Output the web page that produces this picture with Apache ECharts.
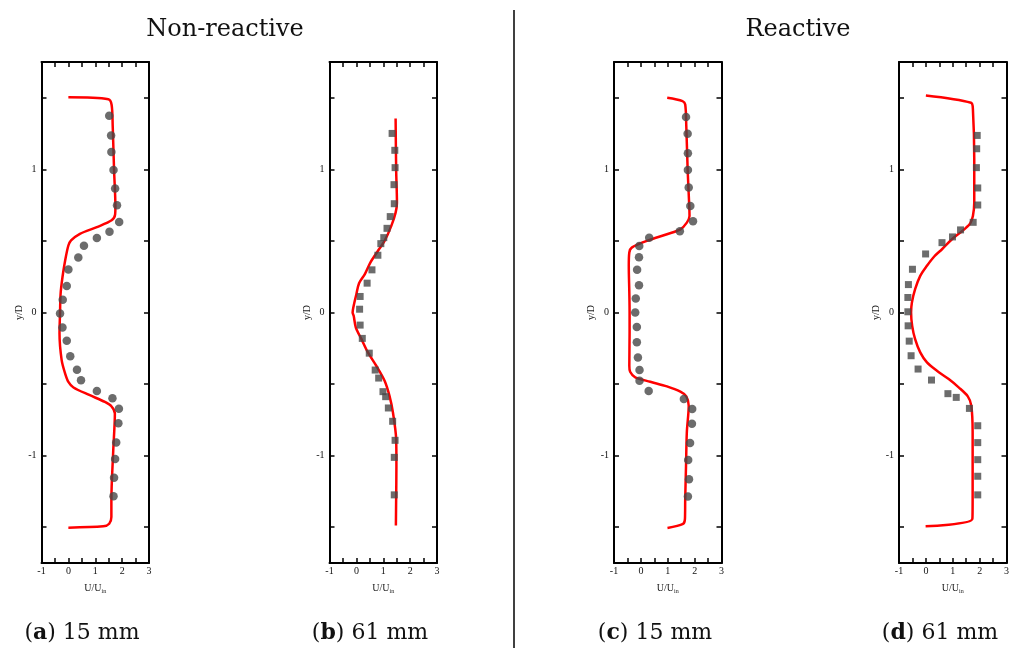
<!DOCTYPE html>
<html>
<head>
<meta charset="utf-8">
<script src="https://cdn.jsdelivr.net/npm/echarts@6/dist/echarts.min.js"></script>
<style>html,body{margin:0;padding:0;background:#fff}#c{width:1014px;height:648px}</style>
</head>
<body>
<div id="c"></div>
<script>
// ---- data (U/Uin, y/D) ----
const xTickValues = [-1, -0.5, 0, 0.5, 1, 1.5, 2, 2.5, 3];
const xLabelValues = [-1, 0, 1, 2, 3];
const yTickValues = [-1.5, -1, -0.5, 0, 0.5, 1, 1.5];
const yLabelValues = [-1, 0, 1];
const groupTitles = ['Non-reactive', 'Reactive'];
const panelLetters = ['a', 'b', 'c', 'd'];
const panelDistances = ['15 mm', '61 mm', '15 mm', '61 mm'];

// (a) non-reactive, 15 mm
const aPtsU = [1.52,1.59,1.60,1.68,1.74,1.81,1.89,1.53,1.06,0.58,0.37,0.00,-0.06,-0.21,-0.31,-0.22,-0.06,0.07,0.32,0.47,1.06,1.64,1.88,1.86,1.78,1.74,1.70,1.68];
const aPtsY = [1.375,1.237,1.122,0.995,0.867,0.749,0.632,0.564,0.520,0.466,0.384,0.300,0.185,0.089,-0.007,-0.105,-0.198,-0.305,-0.400,-0.473,-0.548,-0.599,-0.673,-0.774,-0.909,-1.023,-1.154,-1.284];
const aLineU = [0.00,1.49,1.61,1.65,1.70,1.75,1.74,1.61,1.06,0.43,0.10,0.00,-0.12,-0.22,-0.29,-0.31,-0.33,-0.25,-0.12,0.00,0.19,0.80,1.36,1.60,1.73,1.67,1.60,1.60,1.52,1.30,0.00];
const aLineY = [1.503,1.490,1.450,1.300,0.995,0.738,0.686,0.644,0.597,0.550,0.504,0.468,0.363,0.246,0.129,0.000,-0.147,-0.333,-0.427,-0.485,-0.524,-0.578,-0.625,-0.655,-0.706,-0.963,-1.312,-1.429,-1.476,-1.494,-1.503];

// (b) non-reactive, 61 mm
const bPtsU = [1.33,1.43,1.44,1.40,1.41,1.26,1.14,1.02,0.91,0.80,0.58,0.40,0.14,0.12,0.14,0.22,0.48,0.70,0.83,0.99,1.09,1.19,1.35,1.44,1.41,1.41];
const bPtsY = [1.251,1.133,1.012,0.893,0.760,0.670,0.588,0.523,0.481,0.400,0.298,0.205,0.112,0.023,-0.088,-0.181,-0.284,-0.402,-0.458,-0.553,-0.588,-0.667,-0.760,-0.893,-1.012,-1.274];
const bLineU = [1.46,1.48,1.51,1.46,1.30,1.05,0.80,0.52,0.31,0.10,0.00,-0.10,-0.14,-0.10,-0.02,0.19,0.43,0.74,1.05,1.23,1.36,1.48,1.49,1.48,1.47];
const bLineY = [1.356,1.000,0.767,0.698,0.605,0.500,0.430,0.349,0.267,0.205,0.128,0.047,0.000,-0.023,-0.105,-0.186,-0.279,-0.372,-0.477,-0.581,-0.698,-0.884,-1.070,-1.302,-1.488];

// (c) reactive, 15 mm
const cPtsU = [1.68,1.74,1.75,1.75,1.78,1.84,1.94,1.45,0.31,-0.06,-0.07,-0.14,-0.07,-0.19,-0.21,-0.15,-0.15,-0.11,-0.05,-0.05,0.29,1.60,1.91,1.90,1.83,1.76,1.79,1.75];
const cPtsY = [1.365,1.249,1.112,0.995,0.874,0.744,0.637,0.567,0.523,0.465,0.386,0.298,0.191,0.098,0.000,-0.102,-0.207,-0.314,-0.402,-0.477,-0.549,-0.605,-0.674,-0.777,-0.912,-1.030,-1.165,-1.286];
const cLineU = [0.98,1.55,1.65,1.69,1.74,1.80,1.81,1.71,1.47,0.97,0.22,-0.34,-0.43,-0.45,-0.43,-0.42,-0.42,-0.43,-0.40,-0.21,0.35,0.97,1.47,1.69,1.78,1.71,1.68,1.65,1.64,1.57,0.99];
const cLineY = [1.500,1.477,1.453,1.302,1.000,0.744,0.674,0.628,0.581,0.547,0.500,0.453,0.419,0.326,0.140,0.000,-0.140,-0.372,-0.414,-0.453,-0.484,-0.516,-0.553,-0.586,-0.651,-0.837,-1.070,-1.302,-1.442,-1.477,-1.505];

// (d) reactive, 61 mm
const dPtsU = [1.91,1.89,1.88,1.93,1.93,1.76,1.29,0.99,0.60,-0.01,-0.50,-0.65,-0.67,-0.67,-0.66,-0.62,-0.55,-0.29,0.21,0.82,1.13,1.62,1.93,1.93,1.93,1.93,1.93];
const dPtsY = [1.237,1.144,1.012,0.870,0.751,0.630,0.577,0.528,0.488,0.409,0.302,0.195,0.105,0.005,-0.093,-0.200,-0.302,-0.395,-0.472,-0.567,-0.593,-0.670,-0.791,-0.909,-1.028,-1.144,-1.274];
const dLineU = [0.00,1.68,1.75,1.80,1.80,1.75,1.65,1.50,1.28,0.97,0.60,0.31,0.04,-0.21,-0.40,-0.52,-0.55,-0.51,-0.40,-0.21,0.04,0.41,0.85,1.22,1.56,1.69,1.74,1.74,1.74,1.73,-0.01];
const dLineY = [1.516,1.465,1.419,1.070,0.767,0.674,0.623,0.593,0.558,0.512,0.442,0.391,0.326,0.256,0.163,0.070,0.000,-0.093,-0.186,-0.279,-0.349,-0.407,-0.465,-0.523,-0.586,-0.651,-0.837,-1.070,-1.302,-1.442,-1.493];

const panels = [
  {ptsU: aPtsU, ptsY: aPtsY, lineU: aLineU, lineY: aLineY, symbol: 'circle'},
  {ptsU: bPtsU, ptsY: bPtsY, lineU: bLineU, lineY: bLineY, symbol: 'rect'},
  {ptsU: cPtsU, ptsY: cPtsY, lineU: cLineU, lineY: cLineY, symbol: 'circle'},
  {ptsU: dPtsU, ptsY: dPtsY, lineU: dLineU, lineY: dLineY, symbol: 'rect'}
];
const zip = (u, y) => u.map((v, i) => [v, y[i]]);

// ---- layout ----
const gridLefts = [41.5, 329.5, 614, 899];
const gridWidth = 107.5, gridTop = 62, gridHeight = 501;
const serif = '"Liberation Serif", "DejaVu Serif", serif';
const pal = '"DejaVu Serif", "Liberation Serif", serif';

const grids = [], xAxes = [], yAxes = [], series = [];
const lineStyleAxis = {color: '#000', width: 2};
panels.forEach((p, i) => {
  grids.push({left: gridLefts[i], top: gridTop, width: gridWidth, height: gridHeight, containLabel: false});
  const tickCommon = {show: true, inside: true, length: 5, lineStyle: {color: '#000', width: 1.5}};
  // bottom x
  xAxes.push({
    type: 'value', gridIndex: i, position: 'bottom', min: -1, max: 3, interval: 0.5,
    axisLine: {show: true, onZero: false, lineStyle: lineStyleAxis},
    axisTick: Object.assign({customValues: xTickValues}, tickCommon),
    axisLabel: {customValues: xLabelValues, fontFamily: serif, fontSize: 10, color: '#111', margin: 3},
    splitLine: {show: false},
    name: 'U/U{s|in}', nameLocation: 'middle', nameGap: 19,
    nameTextStyle: {fontFamily: serif, fontSize: 10, color: '#222', rich: {s: {fontFamily: serif, fontSize: 6, color: '#222', verticalAlign: 'bottom', padding: [6, 0, 0, 0]}}}
  });
  // top x
  xAxes.push({
    type: 'value', gridIndex: i, position: 'top', min: -1, max: 3, interval: 0.5,
    axisLine: {show: true, onZero: false, lineStyle: lineStyleAxis},
    axisTick: Object.assign({customValues: xTickValues}, tickCommon),
    axisLabel: {show: false}, splitLine: {show: false}
  });
  // left y
  yAxes.push({
    type: 'value', gridIndex: i, position: 'left', min: -1.75, max: 1.75,
    axisLine: {show: true, onZero: false, lineStyle: lineStyleAxis},
    axisTick: Object.assign({customValues: yTickValues}, tickCommon),
    axisLabel: {customValues: yLabelValues, fontFamily: serif, fontSize: 10, color: '#111', margin: 5},
    splitLine: {show: false},
    name: 'y/D', nameLocation: 'middle', nameGap: 17, nameRotate: 90,
    nameTextStyle: {fontFamily: serif, fontSize: 10, color: '#222'}
  });
  // right y
  yAxes.push({
    type: 'value', gridIndex: i, position: 'right', min: -1.75, max: 1.75,
    axisLine: {show: true, onZero: false, lineStyle: lineStyleAxis},
    axisTick: Object.assign({customValues: yTickValues}, tickCommon),
    axisLabel: {show: false}, splitLine: {show: false}
  });
  series.push({
    type: 'line', xAxisIndex: 2 * i, yAxisIndex: 2 * i, data: zip(p.lineU, p.lineY),
    showSymbol: false, smooth: 0.3, lineStyle: {color: '#ff0000', width: 2.5}, z: 3, animation: false
  });
  series.push({
    type: 'scatter', xAxisIndex: 2 * i, yAxisIndex: 2 * i, data: zip(p.ptsU, p.ptsY),
    symbol: p.symbol, symbolSize: p.symbol === 'circle' ? 8.5 : 7,
    itemStyle: {color: '#474747'}, z: 4, animation: false
  });
});

const graphics = [
  {type: 'line', shape: {x1: 514, y1: 10, x2: 514, y2: 648}, style: {stroke: '#000', lineWidth: 1.5}},
  {type: 'text', x: 225, y: 30, style: {text: groupTitles[0], font: '24px ' + pal, fill: '#111', textAlign: 'center', textVerticalAlign: 'middle'}},
  {type: 'text', x: 798, y: 30, style: {text: groupTitles[1], font: '24px ' + pal, fill: '#111', textAlign: 'center', textVerticalAlign: 'middle'}}
];
const capX = [82, 370, 655, 940];
panelLetters.forEach((l, i) => {
  graphics.push({
    type: 'text', x: capX[i], y: 633,
    style: {
      text: '({b|' + l + '}) ' + panelDistances[i],
      font: '22px ' + pal, fill: '#111', textAlign: 'center', textVerticalAlign: 'middle',
      rich: {b: {fontFamily: pal, fontSize: 22, fontWeight: 'bold', fill: '#111'}}
    }
  });
});

const chart = echarts.init(document.getElementById('c'), null, {renderer: 'canvas'});
chart.setOption({
  animation: false,
  backgroundColor: '#fff',
  grid: grids, xAxis: xAxes, yAxis: yAxes, series: series, graphic: graphics
});
</script>
</body>
</html>
